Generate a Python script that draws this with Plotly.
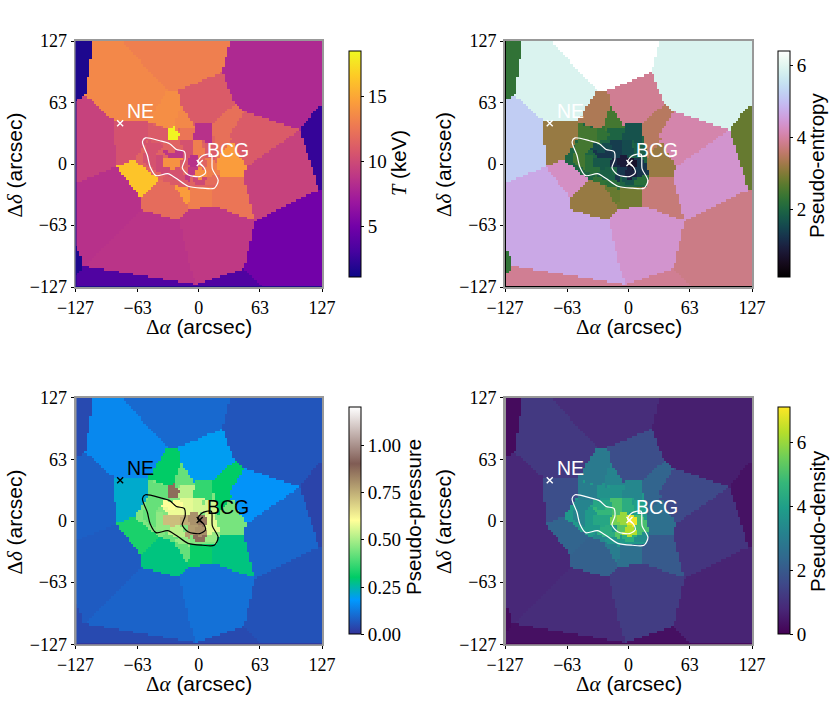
# coding: utf-8
import math

import numpy as np
import plotly.graph_objects as go
import plotly.express as px

# bins, arcsec; later cells paint over earlier ones
cell_outlines = [
    [(-127, 127), (-109, 127), (-117, 71), (-127, 66)],
    [(-109, 127), (-80, 127), (-32, 76), (-52, 45), (-88, 45), (-117, 71)],
    [(-80, 127), (32, 127), (24, 95), (-21, 76), (-32, 76)],
    [(32, 127), (127, 127), (127, 64), (104, 35), (47, 54), (37, 62), (24, 95)],
    [(127, 64), (104, 35), (124, -27), (127, -27)],
    [(47, 54), (104, 35), (49, -3), (32, 31)],
    [(104, 35), (124, -27), (58, -59), (46, -14), (49, -3)],
    [(58, -59), (124, -27), (127, -27), (127, -127), (66, -127), (47, -108)],
    [(-20, -58), (-11, -48), (14, -43), (58, -59), (47, -108), (-3, -125), (-11, -99)],
    [(-59, -48), (-20, -58), (-11, -99), (-3, -125), (-118, -106)],
    [(-127, -20), (-85, -3), (-59, -36), (-59, -48), (-118, -106), (-125, -86), (-127, -86)],
    [(-127, -127), (-127, -115), (-118, -106), (-3, -125), (-3, -127)],
    [(-3, -125), (47, -108), (66, -127), (-3, -127)],
    [(-127, -86), (-119, -106), (-127, -115)],
    [(-127, 66), (-117, 71), (-88, 45), (-85, -3), (-127, -20)],
    [(-88, 45), (-53, 43), (-53, 24), (-66, 4), (-85, -3)],
    [(-85, -3), (-66, 5), (-40, -17), (-59, -36)],
    [(-40, -17), (-25, -22), (-11, -48), (-20, -58), (-59, -48), (-59, -36)],
    [(-25, -22), (-8, -25), (-11, -46)],
    [(-8, -25), (14, -24), (14, -43), (-11, -48)],
    [(20, -14), (46, -14), (58, -59), (14, -43), (14, -24)],
    [(20, 5), (32, 20), (49, -3), (46, -14), (20, -14)],
    [(37, 62), (47, 54), (32, 31), (20, 5), (18, 18), (13, 40)],
    [(-21, 76), (24, 95), (37, 62), (13, 40), (-4, 38), (-18, 60)],
    [(-32, 76), (-21, 76), (-18, 60), (-25, 41), (-27, 35), (-53, 43)],
    [(-18, 60), (-4, 38), (-4, 32), (-23, 35), (-25, 41)],
    # core of the cluster
    [(-53, 43), (-27, 35), (-4, 38), (13, 40), (18, 18), (20, -14), (18, -22), (13, -24),
     (-8, -25), (-25, -22), (-40, -17), (-66, 4), (-53, 24)],
    [(-53, 42), (-27, 35), (-28, 24), (-36, 19), (-53, 24)],
    [(-23, 35), (-4, 38), (-6, 24), (-20, 23), (-23, 24)],
    [(-32, 36), (-25, 38), (-20, 31), (-23, 24), (-31, 24)],
    [(-4, 41), (13, 41), (13, 21), (-6, 24)],
    [(-6, 24), (4, 24), (6, 10), (0, 6), (-6, 10)],
    [(5, 23), (13, 21), (19, 18), (17, 4), (6, 7)],
    [(-37, 22), (-29, 19), (-20, 23), (-15, 14), (-30, 12), (-40, 15)],
    [(-40, 15), (-30, 12), (-15, 14), (-17, 7), (-30, 5)],
    [(-20, 23), (-6, 24), (-6, 10), (-12, 6), (-17, 7), (-15, 14)],
    [(-36, 7), (-30, 5), (-17, 7), (-19, -3), (-28, -6), (-37, -2)],
    [(-45, 10), (-36, 7), (-37, -2), (-28, -6), (-34, -12), (-44, -8)],
    [(-53, 24), (-36, 19), (-40, 15), (-45, 10), (-44, -8), (-58, 2)],
    [(-28, -6), (-19, -3), (-14, -15), (-22, -17), (-34, -12)],
    [(-17, 7), (-12, 6), (-10, -3), (-19, -3)],
    [(-12, 6), (-6, 10), (0, 6), (-1, -3), (-10, -3)],
    [(0, 6), (6, 7), (9, -1), (5, -6), (-1, -3)],
    [(6, 7), (17, 4), (22, -12), (10, -13), (5, -6), (9, -1)],
    [(-1, -3), (5, -6), (10, -13), (2, -16), (-6, -13)],
    [(-10, -3), (-1, -3), (-6, -13), (-10, -18), (-14, -15)],
    [(-6, -13), (2, -16), (10, -13), (6, -21), (-8, -20)],
    [(10, -13), (22, -12), (18, -23), (6, -21)],
    [(-22, -17), (-14, -15), (-10, -18), (-8, -20), (-8, -26), (-25, -22)],
    [(-34, -12), (-22, -17), (-25, -22), (-40, -17)],
]

temperature = [1.7, 13.5, 13, 8, 2.5, 11, 9.5, 5, 9, 8.7, 8.5, 3.5, 3.5, 1.7, 9.5, 10.5, 16.3, 12,
               14.5, 13, 12.5, 14.5, 12.2, 11, 13.8, 13.5,
               11.5, 11, 12.5, 18.3, 8.5, 13, 11, 11.5, 8.8, 10.5, 14, 10, 10.5, 10.5, 11, 8.5, 11.5,
               13, 14, 9, 10, 12, 11, 11]
entropy = [2.3, 5.9, 6.4, 5.9, 2.8, 4.1, 4.4, 3.8, 4.4, 4.7, 4.7, 3.9, 3.9, 2.3, 5.2, 3.2, 4.3, 3.2,
           2.8, 2.9, 3.7, 3.2, 3.5, 3.9, 3.4, 2.5,
           2.0, 2.5, 2.0, 2.3, 1.7, 1.6, 1.9, 1.6, 1.3, 1.4, 1.8, 2.2, 2.5, 1.9, 1.1, 0.9, 0.7,
           1.3, 1.0, 1.3, 1.7, 2.2, 2.2, 2.3]
pressure = [0.04, 0.15, 0.095, 0.06, 0.03, 0.17, 0.09, 0.055, 0.11, 0.085, 0.07, 0.04, 0.04, 0.04, 0.08,
            0.22, 0.33, 0.28, 0.42, 0.31, 0.28, 0.44, 0.3, 0.19, 0.3, 0.42,
            0.45, 0.42, 0.52, 0.87, 0.36, 0.55, 0.55, 0.6, 0.58, 0.57, 0.72, 0.47, 0.42, 0.52, 0.75,
            0.8, 0.85, 0.57, 0.8, 0.78, 0.87, 0.48, 0.48, 0.42]
density = [0.2, 1.2, 0.9, 0.6, 0.35, 1.6, 1.1, 0.7, 1.3, 0.9, 0.8, 0.3, 0.3, 0.2, 0.8, 1.7, 2.3, 2.2,
           3, 2.6, 2, 2.6, 2.3, 1.7, 2.9, 3.2,
           3.8, 3, 3.6, 3.6, 3.3, 4.4, 4, 4.2, 4.7, 5, 4.2, 3.8, 3.2, 4.4, 5.6, 6, 6.9, 5, 6.3, 5.2,
           4.5, 3.5, 3.7, 3.3]

contour_x = [-58, -55, -40, -30, -23, -15, -14, -17, -11, 1, 7, 5, -1, 3, 8, 13, 14, 20, 16, 4, -11,
             -23, -32, -44, -50, -53, -58]
contour_y = [23, 27, 24, 21, 15, 13, 5, -4, -11, -13, -9, -3, 2, 8, 10, 10, -5, -17, -25, -25, -23,
             -15, -10, -12, -3, 9, 23]

source_names = ['NE', 'BCG']
source_x = [-81, 1]
source_y = [42, 1]
label_x = [-76, 6]
label_y = [55, 14]

axis_ticks = [-127, -63, 0, 63, 127]
axis_labels = ['\u2212127', '\u221263', '0', '63', '127']

grid = np.linspace(-127, 127, 101)

SERIF = 'Liberation Serif'
SANS = 'Liberation Sans'
W, H = 830, 712

X_TITLE = '<span style="font-family:Liberation Serif">\u0394<i>\u03b1</i></span> (arcsec)'
Y_TITLE = '<span style="font-family:Liberation Serif">\u0394<i>\u03b4</i></span> (arcsec)'


def inside(xx, yy, outline):
    result = np.zeros(xx.shape, dtype=bool)
    for (x1, y1), (x2, y2) in zip(outline, outline[1:] + outline[:1]):
        if y1 == y2:
            continue
        crosses = (y1 > yy) != (y2 > yy)
        result ^= crosses & (xx < x1 + (yy - y1) * (x2 - x1) / (y2 - y1))
    return result


def paint_map(values):
    xx, yy = np.meshgrid(grid, grid)
    z = np.full(xx.shape, np.nan)
    for outline, value in zip(cell_outlines, values):
        z[inside(xx, yy, outline)] = value
    # slivers between outlines take the value of a neighbouring pixel
    while np.isnan(z).any():
        for axis, step in ((0, 1), (0, -1), (1, 1), (1, -1)):
            moved = np.roll(z, step, axis=axis)
            z = np.where(np.isnan(z), moved, z)
    return z


def cubehelix(n=48):
    stops = []
    for i in range(n + 1):
        f = i / n
        a = f * (1 - f) / 2
        phi = 2 * math.pi * (0.5 / 3 - 1.5 * f)
        c, s = math.cos(phi), math.sin(phi)
        r = f + a * (-0.14861 * c + 1.78277 * s)
        g = f + a * (-0.29227 * c - 0.90649 * s)
        b = f + a * (1.97294 * c)
        rgb = [int(round(255 * min(max(v, 0), 1))) for v in (r, g, b)]
        stops.append([f, 'rgb({},{},{})'.format(*rgb)])
    return stops


def page_label(fig, x, y, text, size, angle=0):
    # x, y in page pixels from the top left
    fig.add_annotation(
        x=x / W, y=1 - y / H, xref='paper', yref='paper', text=text, showarrow=False,
        xanchor='center', yanchor='middle', textangle=angle,
        font=dict(family=SANS, size=size, color='black'),
    )


terrain = [[0, 'rgb(51,51,153)'], [0.15, 'rgb(0,153,255)'], [0.25, 'rgb(0,204,102)'],
           [0.5, 'rgb(255,255,153)'], [0.75, 'rgb(128,92,84)'], [1, 'rgb(255,255,255)']]


fig = go.Figure()

panels = [
    dict(values=temperature, scale=px.colors.sequential.Plasma, zmin=1.15, zmax=18.5, ink='white',
         box=(75.5, 322, 41, 287), bar=(349.3, 50.7, 276.7),
         title='<span style="font-family:Liberation Serif"><i>T</i></span> (keV)', title_pos=(399, 163),
         left_edge='#1f0c8c', bottom_edge='#1f0c8c',
         tickvals=[5, 10, 15], ticktext=['5', '10', '15']),
    dict(values=entropy, scale=cubehelix(), zmin=0.15, zmax=6.4, ink='white',
         box=(505, 752, 41, 287), bar=(778, 50.7, 276.7),
         title='Pseudo-entropy', title_pos=(817, 166),
         left_edge='black', bottom_edge='black',
         tickvals=[2, 4, 6], ticktext=['2', '4', '6']),
    dict(values=pressure, scale=terrain, zmin=0, zmax=1.2, ink='black',
         box=(75.5, 322, 397.7, 644.3), bar=(349.3, 407.7, 634.3),
         title='Pseudo-pressure', title_pos=(413, 517),
         left_edge='#999999', bottom_edge='#333399',
         tickvals=[0, 0.25, 0.5, 0.75, 1], ticktext=['0.00', '0.25', '0.50', '0.75', '1.00']),
    dict(values=density, scale=px.colors.sequential.Viridis, zmin=0, zmax=7.1, ink='white',
         box=(505, 752, 397.7, 644.3), bar=(778, 407.7, 634.3),
         title='Pseudo-density', title_pos=(817, 521),
         left_edge='#999999', bottom_edge='#440154',
         tickvals=[0, 2, 4, 6], ticktext=['0', '2', '4', '6']),
]

layout_axes = {}
edges = []
for i, p in enumerate(panels):
    n = '' if i == 0 else str(i + 1)
    left, right, top, bottom = p['box']
    bar_x, bar_top, bar_bottom = p['bar']

    fig.add_trace(go.Heatmap(
        x=grid, y=grid, z=paint_map(p['values']),
        colorscale=p['scale'], zmin=p['zmin'], zmax=p['zmax'],
        xaxis='x' + n, yaxis='y' + n, hoverinfo='skip',
        colorbar=dict(
            x=bar_x / W, xanchor='left',
            y=1 - bar_bottom / H, yanchor='bottom',
            len=(bar_bottom - bar_top) / H, lenmode='fraction',
            thickness=11.5, thicknessmode='pixels', xpad=0, ypad=0,
            outlinewidth=1, outlinecolor='black',
            ticks='outside', ticklen=3, tickwidth=1, tickcolor='black',
            tickvals=p['tickvals'], ticktext=p['ticktext'],
            tickfont=dict(family=SERIF, size=19, color='black'),
        ),
    ))
    fig.add_trace(go.Scatter(
        x=contour_x, y=contour_y, mode='lines', xaxis='x' + n, yaxis='y' + n,
        line=dict(color=p['ink'], width=1.2, shape='spline', smoothing=0.8),
        showlegend=False, hoverinfo='skip',
    ))
    fig.add_trace(go.Scatter(
        x=source_x, y=source_y, mode='markers', xaxis='x' + n, yaxis='y' + n,
        marker=dict(symbol='x-thin', size=6, line=dict(color=p['ink'], width=1.4)),
        showlegend=False, hoverinfo='skip',
    ))
    for name, lx, ly in zip(source_names, label_x, label_y):
        fig.add_annotation(
            x=lx, y=ly, xref='x' + n, yref='y' + n, text=name, showarrow=False,
            xanchor='left', yanchor='middle',
            font=dict(family=SANS, size=19.5, color=p['ink']),
        )
    # titles placed by hand, the axis and colorbar defaults sit too far out
    page_label(fig, p['title_pos'][0], p['title_pos'][1], p['title'], 20.5, angle=-90)
    page_label(fig, (left + right) / 2, bottom + 40, X_TITLE, 21)
    page_label(fig, left - 61, (top + bottom) / 2 + 1, Y_TITLE, 21, angle=-90)

    # the map covers the frame along these sides
    edges.append(dict(type='line', xref='x' + n, yref='y' + n, x0=-127, x1=127, y0=-127, y1=-127,
                      line=dict(color=p['bottom_edge'], width=2)))
    edges.append(dict(type='line', xref='x' + n, yref='y' + n, x0=-127, x1=-127, y0=-127, y1=127,
                      line=dict(color=p['left_edge'], width=2)))

    layout_axes['xaxis' + n] = dict(
        domain=[left / W, right / W], anchor='y' + n, range=[-127, 127],
        tickvals=axis_ticks, ticktext=axis_labels, ticks='outside', ticklen=3, tickcolor='black',
        tickfont=dict(family=SERIF, size=18, color='black'),
        showgrid=False, zeroline=False, showline=True, mirror=True,
        linecolor='#999999', linewidth=2,
    )
    layout_axes['yaxis' + n] = dict(
        domain=[1 - bottom / H, 1 - top / H], anchor='x' + n, range=[-127, 127],
        tickvals=axis_ticks, ticktext=axis_labels, ticks='outside', ticklen=3, tickcolor='black',
        tickfont=dict(family=SERIF, size=18, color='black'),
        showgrid=False, zeroline=False, showline=True, mirror=True,
        linecolor='#999999', linewidth=2,
    )

fig.update_layout(
    width=W, height=H, autosize=False,
    margin=dict(l=0, r=0, t=0, b=0, autoexpand=False),
    paper_bgcolor='white', plot_bgcolor='white',
    showlegend=False, shapes=edges,
    **layout_axes,
)

fig.write_html("out.html", config=dict(displayModeBar=False),
               post_script="document.body.style.margin='0';")
